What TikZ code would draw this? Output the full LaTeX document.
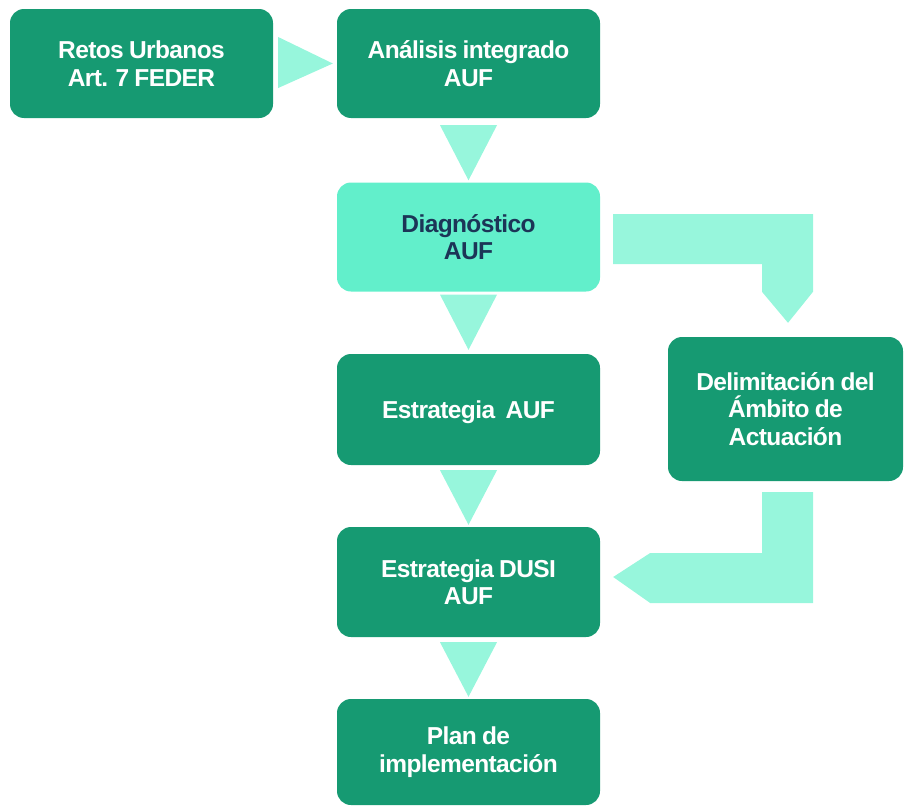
\documentclass[tikz,border=0pt]{standalone}
\usepackage{fontspec}
\setmainfont{Liberation Sans}
\newfontfamily\boxfont{Liberation Sans Bold}[WordSpace=0.85,LetterSpace=-2.5]
\usetikzlibrary{calc}
\definecolor{darkg}{HTML}{169A72}
\definecolor{lightbox}{HTML}{62EFCB}
\definecolor{arrowc}{HTML}{97F6DC}
\definecolor{navy}{HTML}{1C3557}
\tikzset{
  stepbox/.style={rectangle, rounded corners=14pt, fill=darkg, text=white,
    minimum width=263pt, minimum height=109pt, align=center, inner sep=0pt,
    font=\boxfont\fontsize{24.5}{27.5}\selectfont,
    execute at begin node={\rule{0pt}{24pt}}},
  lightstep/.style={stepbox, fill=lightbox, text=navy},
  arr/.style={fill=arrowc, draw=none}
}
\begin{document}
\begin{tikzpicture}[x=1pt,y=-1pt]
\useasboundingbox (0,0) rectangle (906,806);
\node[stepbox] (retos) at (141.5,63.5) {Retos Urbanos\\Art. 7 FEDER};
\node[stepbox] (ana) at (468.5,63.5) {Análisis integrado\\AUF};
\node[lightstep] (diag) at (468.5,237) {Diagnóstico\\AUF};
\node[stepbox, minimum height=111pt] (estr) at (468.5,409.5) {Estrategia\ \ AUF};
\node[stepbox, minimum height=110pt] (dusi) at (468.5,582) {Estrategia DUSI\\AUF};
\node[stepbox, minimum height=106pt] (plan) at (468.5,752) {Plan de\\implementación};
\node[stepbox, minimum width=235pt, minimum height=144pt, execute at begin node={}] (delim) at (785.5,409) {Delimitación del\\Ámbito de\\Actuación};
% right arrow
\fill[arr] ($(retos.east)+(5,-26.5)$) -- ($(retos.east)+(5,24.5)$) -- ($(ana.west)+(-4,0)$) -- cycle;
% down arrows
\fill[arr] ($(ana.south)+(-28.5,7)$) -- ($(ana.south)+(28.5,7)$) -- ($(diag.north)+(0,-2)$) -- cycle;
\fill[arr] ($(diag.south)+(-28.5,3)$) -- ($(diag.south)+(28.5,3)$) -- ($(estr.north)+(0,-4)$) -- cycle;
\fill[arr] ($(estr.south)+(-28.5,5)$) -- ($(estr.south)+(28.5,5)$) -- ($(dusi.north)+(0,-2)$) -- cycle;
\fill[arr] ($(dusi.south)+(-28.5,5)$) -- ($(dusi.south)+(28.5,5)$) -- ($(plan.north)+(0,-2)$) -- cycle;
% elbow from diagnostico to delimitacion
\fill[arr] ($(diag.east)+(13,-23)$) -- ($(delim.north |- diag.east)+(27.5,-23)$)
  -- ($(delim.north)+(27.5,-45)$) -- ($(delim.north)+(2.5,-14)$)
  -- ($(delim.north)+(-23.5,-45)$) -- ($(delim.north |- diag.east)+(-23.5,27)$)
  -- ($(diag.east)+(13,27)$) -- cycle;
% elbow from delimitacion to dusi
\fill[arr] ($(delim.south)+(-23.5,11)$) -- ($(delim.south)+(27.5,11)$)
  -- ($(delim.south |- dusi.east)+(27.5,21)$) -- ($(dusi.east)+(50,21)$)
  -- ($(dusi.east)+(13,-5)$) -- ($(dusi.east)+(50,-29)$)
  -- ($(delim.south |- dusi.east)+(-23.5,-29)$) -- cycle;
\end{tikzpicture}
\end{document}
